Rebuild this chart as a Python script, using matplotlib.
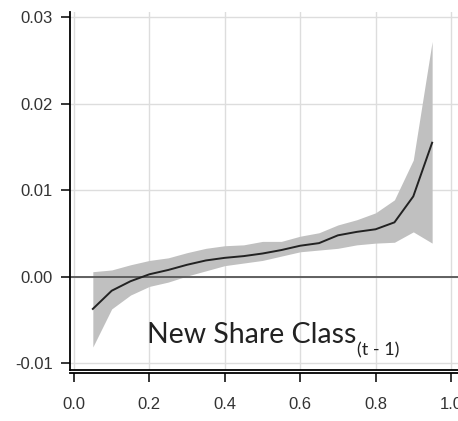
import matplotlib
matplotlib.use("Agg")
import matplotlib.pyplot as plt

# quantile of the ranking variable and the estimated effect with its band
quantile = [0.05, 0.10, 0.15, 0.20, 0.25, 0.30, 0.35, 0.40, 0.45, 0.50,
            0.55, 0.60, 0.65, 0.70, 0.75, 0.80, 0.85, 0.90, 0.95]
effect = [-0.0037, -0.0016, -0.0005, 0.0003, 0.0008, 0.0014, 0.0019, 0.0022, 0.0024, 0.0027,
          0.0031, 0.0036, 0.0039, 0.0048, 0.0052, 0.0055, 0.0063, 0.0093, 0.0155]
lower = [-0.0081, -0.0037, -0.0021, -0.0011, -0.0006, 0.0001, 0.0007, 0.0013, 0.0016, 0.0019,
         0.0024, 0.0029, 0.0031, 0.0033, 0.0037, 0.0039, 0.0040, 0.0052, 0.0039]
upper = [0.0006, 0.0008, 0.0014, 0.0019, 0.0022, 0.0028, 0.0033, 0.0036, 0.0037, 0.0041,
         0.0041, 0.0047, 0.0051, 0.0060, 0.0066, 0.0074, 0.0089, 0.0135, 0.0272]

yticks = [-0.01, 0.00, 0.01, 0.02, 0.03]
ytick_labels = ["-0.01", "0.00", "0.01", "0.02", "0.03"]
xticks = [0.0, 0.2, 0.4, 0.6, 0.8, 1.0]
xtick_labels = ["0.0", "0.2", "0.4", "0.6", "0.8", "1.0"]

fig = plt.figure(figsize=(4.58, 4.21), dpi=100)
ax = fig.add_axes([0.1528, 0.1223, 0.8472, 0.8492])

ax.fill_between(quantile, lower, upper, color="#c0c0c0", linewidth=0, zorder=2)
ax.plot(quantile, effect, color="#222222", linewidth=1.4, zorder=3)
ax.axhline(0, color="#555555", linewidth=1.3, zorder=2.5)

ax.set_xlim(-0.0106, 1.0186)
ax.set_ylim(-0.0107, 0.0306)

ax.set_yticks(yticks)
ax.set_yticklabels(ytick_labels)
ax.set_xticks(xticks)
ax.set_xticklabels(xtick_labels)

#grid lines
ax.grid(True, color="#dddddd", linewidth=1.0, zorder=0)
ax.set_axisbelow(True)

for s in ["top", "right"]:
    ax.spines[s].set_visible(False)
ax.spines["left"].set_linewidth(1.3)
ax.spines["bottom"].set_linewidth(1.3)
ax.spines["bottom"].set_position(("outward", 2.6))
# frame line along the bottom of the panel
ax.plot([0, 1], [0, 0], transform=ax.transAxes, color="black", linewidth=1.3, clip_on=False)

ax.tick_params(axis="both", direction="out", length=6.5, width=1.1, labelsize=12,
               colors="black")
ax.tick_params(axis="y", pad=6)
ax.tick_params(axis="x", pad=11)
for lab in ax.get_xticklabels() + ax.get_yticklabels():
    lab.set_fontfamily("Liberation Sans")
    lab.set_color("#333333")

#label inside the panel
t = ax.text(0.194, -0.0076, "New Share Class", fontsize=20.5, family="Lato",
            color="#222222", zorder=5)
fig.canvas.draw()
bb = t.get_window_extent()
inv = ax.transData.inverted()
x_end, _ = inv.transform((bb.x1, bb.y0))
ax.text(x_end + 0.001, -0.0091, "(t - 1)", fontsize=13, family="Lato",
        color="#222222", zorder=5)

fig.savefig("out.png", dpi=100)
